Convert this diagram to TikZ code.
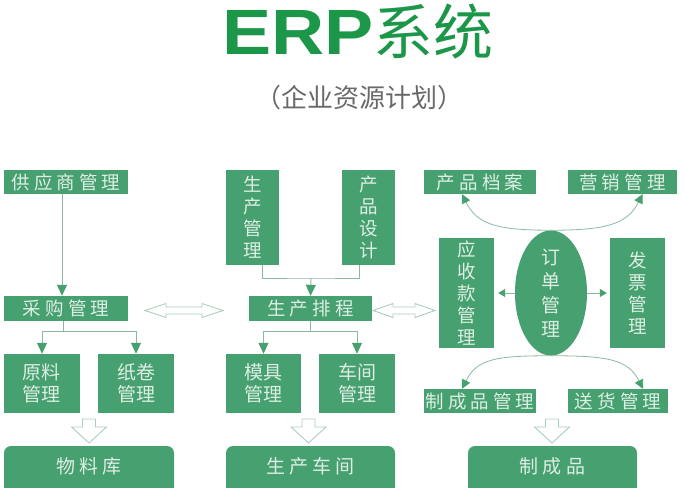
\documentclass[tikz,border=0pt]{standalone}
\usepackage{fontspec,graphicx}
\newfontfamily\cjk{Noto Sans CJK SC}
\newfontfamily\cjkwide{Noto Sans CJK SC}[LetterSpace=22]
\newfontfamily\erpfont{Liberation Sans}
\usetikzlibrary{shapes.geometric,arrows.meta}
\definecolor{boxgreen}{RGB}{70,160,112}
\definecolor{boxtext}{RGB}{222,238,228}
\definecolor{linkgray}{RGB}{140,184,160}
\definecolor{titlegreen}{RGB}{28,150,72}
\definecolor{subgray}{RGB}{105,105,105}
\definecolor{hollowline}{RGB}{172,206,186}

\begin{document}
\begin{tikzpicture}[x=1pt,y=-1pt,
    box/.style={fill=boxgreen,text=boxtext,inner sep=0pt,align=center,font=\cjk\fontsize{18.5}{22}\selectfont},
    linebox/.style={box,font=\cjkwide\fontsize{18.5}{22}\selectfont},
    bigbox/.style={box,rounded corners=7pt,minimum height=54,text height=16pt,text depth=14.6pt,font=\cjkwide\fontsize{19}{22}\selectfont},
    plain/.style={draw=linkgray,line width=1pt},
    link/.style={plain,-{Triangle[color=boxgreen,length=11pt,width=10pt]}},
    smalllink/.style={plain,-{Triangle[color=boxgreen,length=7pt,width=8pt]}},
    curvelink/.style={draw=linkgray,line width=0.8pt,-{Triangle[color=boxgreen,length=9pt,width=9pt]}},
    hollow/.style={draw=hollowline,line width=0.9pt,fill=white}]
    \useasboundingbox (0,0) rectangle (685,487);
    \clip (0,0) rectangle (685,487);
    % title
    \node[anchor=base,text=titlegreen,inner sep=0pt] (title) at (358,55) {\scalebox{1.15}[1]{\erpfont\bfseries\fontsize{64}{64}\selectfont ERP}{\cjk\fontsize{60}{60}\selectfont 系统}};
    \node[text=subgray,font=\cjk\fontsize{26}{26}\selectfont] (subtitle) at (359,97.5) {（企业资源计划）};
    % left column
    \node[linebox,minimum width=124,minimum height=24] (gys) at (66,182) {供应商管理};
    \node[linebox,minimum width=124,minimum height=25] (cg) at (66,308.5) {采购管理};
    \node[box,minimum width=76,minimum height=59,font=\cjk\fontsize{19}{22}\selectfont] (ylgl) at (42,383.5) {原料\\管理};
    \node[box,minimum width=76,minimum height=59,font=\cjk\fontsize{19}{22}\selectfont] (zjgl) at (136,383.5) {纸卷\\管理};
    \node[bigbox,minimum width=170] (wlk) at (89,473) {物料库};
    % middle column
    \node[box,minimum width=53,minimum height=95] (scgl) at (252.5,217.5) {生\\产\\管\\理};
    \node[box,minimum width=53,minimum height=95] (cpsj) at (368.5,217.5) {产\\品\\设\\计};
    \node[linebox,minimum width=123,minimum height=25] (scpc) at (310.5,308.5) {生产排程};
    \node[box,minimum width=75,minimum height=59,font=\cjk\fontsize{19}{22}\selectfont] (mjgl) at (263.5,383.5) {模具\\管理};
    \node[box,minimum width=76,minimum height=59,font=\cjk\fontsize{19}{22}\selectfont] (cjgl) at (357,383.5) {车间\\管理};
    \node[bigbox,minimum width=169] (sccj) at (310.5,473) {生产车间};
    % right column
    \node[linebox,minimum width=112,minimum height=24] (cpda) at (480,182) {产品档案};
    \node[linebox,minimum width=109,minimum height=24] (yxgl) at (622.5,182) {营销管理};
    \node[box,minimum width=55,minimum height=110] (yskgl) at (466.5,293) {应\\收\\款\\管\\理};
    \node[box,ellipse,minimum width=72,minimum height=110,font=\cjk\fontsize{19}{24}\selectfont] (ddgl) at (551,293) {订\\单\\管\\理};
    \node[box,minimum width=55,minimum height=110] (fpgl) at (637.5,293) {发\\票\\管\\理};
    \node[linebox,minimum width=112,minimum height=24] (zcpgl) at (480,401) {制成品管理};
    \node[linebox,minimum width=100,minimum height=24] (shgl) at (618,401) {送货管理};
    \node[bigbox,minimum width=169] (zcp) at (552.5,473) {制成品};
    % connectors
    \draw[link] ([xshift=-4pt]gys.south) -- ([xshift=-4pt]cg.north);
    \draw[link] ([xshift=-3pt]cg.south) -- ++(0,10) -| (ylgl.north);
    \draw[link] ([xshift=-3pt]cg.south) -- ++(0,10) -| (zjgl.north);
    \coordinate (pcjoin) at (311,278);
    \draw[plain] ([xshift=10pt]scgl.south) |- (pcjoin) -| ([xshift=-9.5pt]cpsj.south);
    \draw[link] (pcjoin) -- (scpc.north);
    \draw[link] (scpc.south) -- ++(0,10) -| (mjgl.north);
    \draw[link] (scpc.south) -- ++(0,10) -| (cjgl.north);
    \draw[smalllink,shorten >=4pt] (ddgl.west) -- (yskgl.east);
    \draw[smalllink,shorten >=3pt] (ddgl.east) -- (fpgl.west);
    \draw[curvelink] (ddgl.north) .. controls +(-55,0) and +(15,30) .. ([xshift=-18pt]cpda.south);
    \draw[curvelink] (ddgl.north) .. controls +(55,0) and +(-15,30) .. ([xshift=20pt]yxgl.south);
    \draw[curvelink] (ddgl.south) .. controls +(-55,0) and +(15,-30) .. ([xshift=-18pt]zcpgl.north);
    \draw[curvelink] (ddgl.south) .. controls +(55,0) and +(-15,-30) .. ([xshift=25pt]shgl.north);
    % hollow arrows
    \draw[hollow] (145,310.5) -- (166,303.5) -- (166,307) -- (202,307) -- (202,303.5) -- (223,310.5) -- (202,317.5) -- (202,314) -- (166,314) -- (166,317.5) -- cycle;
    \draw[hollow] (373,310.5) -- (393,303.5) -- (393,307) -- (415,307) -- (415,303.5) -- (435,310.5) -- (415,317.5) -- (415,314) -- (393,314) -- (393,317.5) -- cycle;
    \draw[hollow] (82.5,419) -- (95.5,419) -- (95.5,427) -- (106.5,427) -- (89,443) -- (71.5,427) -- (82.5,427) -- cycle;
    \draw[hollow] (302,419) -- (315,419) -- (315,427) -- (326,427) -- (308.5,443) -- (291,427) -- (302,427) -- cycle;
    \draw[hollow] (545.5,419) -- (558.5,419) -- (558.5,427) -- (569.5,427) -- (552,443) -- (534.5,427) -- (545.5,427) -- cycle;
\end{tikzpicture}
\end{document}
